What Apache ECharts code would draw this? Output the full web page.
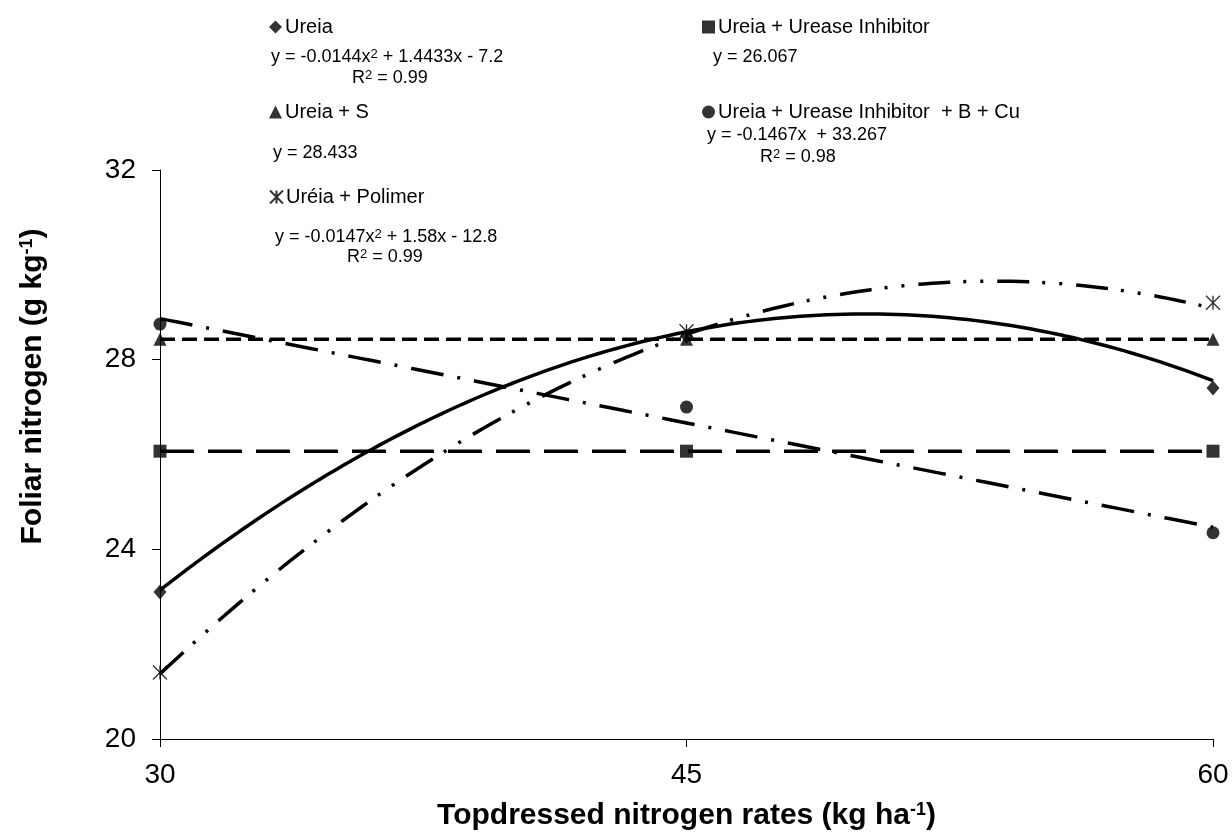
<!DOCTYPE html>
<html><head><meta charset="utf-8">
<script src="https://cdn.jsdelivr.net/npm/echarts@6/dist/echarts.min.js"></script>
<style>html,body{margin:0;padding:0;background:#fff}#c{width:1232px;height:838px}</style>
</head><body><div id="c"></div>
<script>
// ---- data ----
const rates = [30, 45, 60];
const ureia = [23.1, 28.5, 27.4];
const ureiaUI = [26.07, 26.07, 26.07];
const ureiaS = [28.43, 28.43, 28.43];
const ureiaPolimer = [21.4, 28.6, 29.2];
const ureiaUIBCu = [28.75, 27.0, 24.35];
// trendline equations printed on the chart: y = c0 + c1*x + c2*x^2
const fitUreia = [-7.2, 1.4433, -0.0144];
const fitUI = [26.067, 0, 0];
const fitS = [28.433, 0, 0];
const fitPolimer = [-12.8, 1.58, -0.0147];
const fitBCu = [33.267, -0.1467, 0];
const xTicks = [30, 45, 60];
const yTicks = [20, 24, 28, 32];

const names = ['Ureia', 'Ureia + Urease Inhibitor', 'Ureia + S', 'Uréia + Polimer', 'Ureia + Urease Inhibitor  + B + Cu'];

const FONT = "'Liberation Sans', Arial, sans-serif";
const starPath = 'path://M0,0L10,10M10,0L0,10M5,0L5,10';

function pts(vals) { return rates.map((x, i) => [x, vals[i]]); }
function curve(c) {
  const out = [];
  for (let x = rates[0]; x <= rates[rates.length - 1] + 1e-9; x += 0.25) {
    out.push([x, c[0] + c[1] * x + c[2] * x * x]);
  }
  return out;
}

const markers = [
  { name: names[0], data: ureia, symbol: 'diamond', size: [13, 15] },
  { name: names[1], data: ureiaUI, symbol: 'rect', size: 13 },
  { name: names[2], data: ureiaS, symbol: 'triangle', size: 13 },
  { name: names[3], data: ureiaPolimer, symbol: starPath, size: 14 },
  { name: names[4], data: ureiaUIBCu, symbol: 'circle', size: 13 }
];
const fits = [
  { name: names[0], c: fitUreia, type: 'solid' },
  { name: names[1], c: fitUI, type: [34, 14] },
  { name: names[2], c: fitS, type: [15, 7] },
  { name: names[3], c: fitPolimer, type: [32, 13, 3, 14, 3, 14] },
  { name: names[4], c: fitBCu, type: [33, 14, 3, 14] }
];

const series = [];
markers.forEach(m => {
  series.push({
    name: m.name, type: 'scatter', data: pts(m.data), symbol: m.symbol, symbolSize: m.size,
    itemStyle: { color: '#000', borderColor: '#000', borderWidth: m.symbol === starPath ? 1.4 : 0 },
    z: 5
  });
});
fits.forEach(f => {
  series.push({
    name: f.name, type: 'line', data: curve(f.c), showSymbol: false, symbol: 'none',
    lineStyle: { color: '#000', width: 3.5, type: f.type, cap: 'butt' },
    itemStyle: { color: '#000' }, z: 3, silent: true
  });
});

const legendPos = [
  { left: 269, top: 17 },
  { left: 702, top: 17 },
  { left: 269, top: 102 },
  { left: 269, top: 187 },
  { left: 702, top: 102 }
];
const legends = names.map((n, i) => ({
  data: [n], left: legendPos[i].left, top: legendPos[i].top, padding: 0,
  itemWidth: 13, itemHeight: 13, itemGap: 3, selectedMode: false,
  textStyle: { fontFamily: FONT, fontSize: 20, color: '#000', padding: [0, 0, 0, -2] }
}));

const supRich = { sup: { fontFamily: FONT, fontSize: 13, verticalAlign: 'top', lineHeight: 18, color: '#000' } };
function eq(text, x, y) {
  return { type: 'text', x: x, y: y, style: { text: text, font: '18px ' + FONT, fill: '#000', verticalAlign: 'middle', align: 'left', rich: supRich } };
}
const graphics = [
  eq('y = -0.0144x{sup|2} + 1.4433x - 7.2', 271, 57),
  eq('R{sup|2} = 0.99', 352, 78),
  eq('y = 28.433', 273, 153),
  eq('y = -0.0147x{sup|2} + 1.58x - 12.8', 275, 237),
  eq('R{sup|2} = 0.99', 347, 257),
  eq('y = 26.067', 713, 57),
  eq('y = -0.1467x  + 33.267', 707, 135),
  eq('R{sup|2} = 0.98', 760, 157)
];

const chart = echarts.init(document.getElementById('c'));
chart.setOption({
  backgroundColor: '#fff',
  animation: false,
  grid: { left: 160, right: 19, top: 170, bottom: 99, containLabel: false },
  legend: legends,
  graphic: graphics,
  xAxis: {
    type: 'value', min: xTicks[0], max: xTicks[xTicks.length - 1], interval: xTicks[1] - xTicks[0],
    name: 'Topdressed nitrogen rates (kg ha{sup|-1})', nameLocation: 'middle', nameGap: 62,
    nameTextStyle: { fontFamily: FONT, fontSize: 30, fontWeight: 'bold', color: '#000',
      rich: { sup: { fontFamily: FONT, fontSize: 18, fontWeight: 'bold', verticalAlign: 'top', color: '#000' } } },
    axisLine: { show: true, lineStyle: { color: '#000', width: 1 } },
    axisTick: { show: true, inside: false, length: 8, lineStyle: { color: '#000' } },
    axisLabel: { fontFamily: FONT, fontSize: 28, color: '#000', margin: 22 },
    splitLine: { show: false }
  },
  yAxis: {
    type: 'value', min: yTicks[0], max: yTicks[yTicks.length - 1], interval: yTicks[1] - yTicks[0],
    name: 'Foliar nitrogen (g kg{sup|-1})', nameLocation: 'middle', nameGap: 112,
    nameTextStyle: { fontFamily: FONT, fontSize: 30, fontWeight: 'bold', color: '#000', padding: [0, 0, 0, 136],
      rich: { sup: { fontFamily: FONT, fontSize: 18, fontWeight: 'bold', verticalAlign: 'top', color: '#000' } } },
    axisLine: { show: true, lineStyle: { color: '#000', width: 1 } },
    axisTick: { show: true, inside: false, length: 8, lineStyle: { color: '#000' } },
    axisLabel: { fontFamily: FONT, fontSize: 28, color: '#000', margin: 24 },
    splitLine: { show: false }
  },
  series: series
});
</script>
</body></html>
